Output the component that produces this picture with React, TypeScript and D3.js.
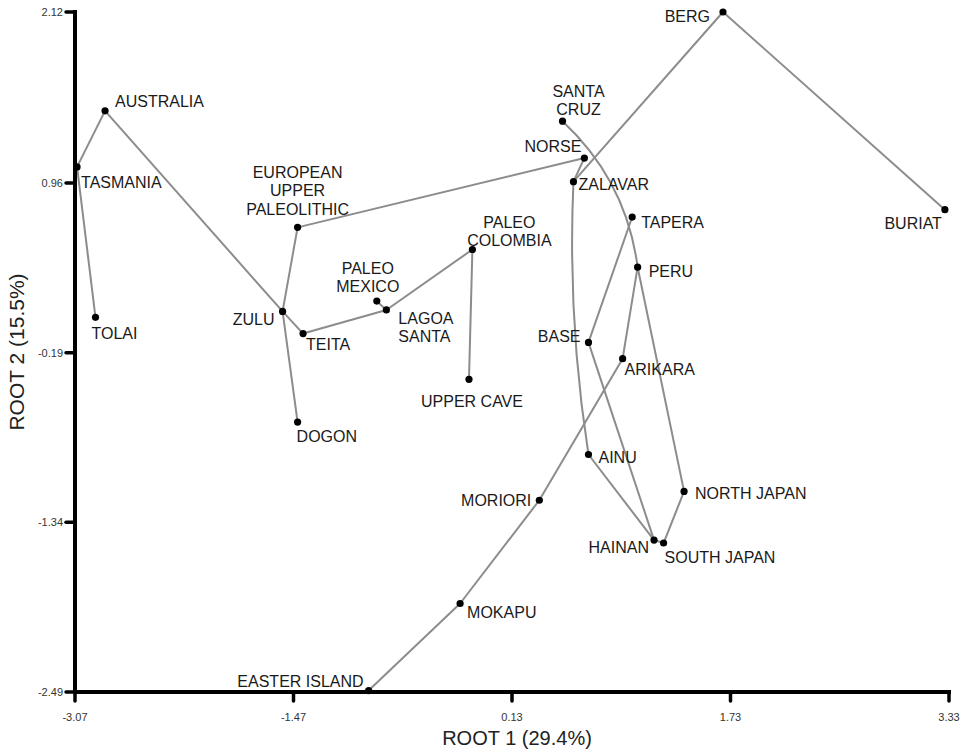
import React from "react";
import * as d3 from "d3";

const names = [
  "AUSTRALIA", "TASMANIA", "TOLAI", "ZULU", "EUROPEAN\nUPPER\nPALEOLITHIC", "TEITA", "DOGON",
  "PALEO\nMEXICO", "LAGOA\nSANTA", "PALEO\nCOLOMBIA", "UPPER CAVE", "NORSE", "SANTA\nCRUZ",
  "ZALAVAR", "BERG", "BURIAT", "TAPERA", "PERU", "BASE", "ARIKARA", "AINU", "NORTH JAPAN",
  "HAINAN", "SOUTH JAPAN", "MORIORI", "MOKAPU", "EASTER ISLAND",
];
const root1 = [
  -2.85, -3.055, -2.92, -1.55, -1.44, -1.40, -1.44,
  -0.86, -0.79, -0.16, -0.185, 0.66, 0.50,
  0.58, 1.675, 3.30, 1.01, 1.05, 0.69, 0.94, 0.69, 1.39,
  1.17, 1.24, 0.33, -0.25, -0.92,
];
const root2 = [
  1.45, 1.07, 0.05, 0.09, 0.66, -0.06, -0.66,
  0.16, 0.10, 0.51, -0.37, 1.13, 1.38,
  0.97, 2.12, 0.78, 0.73, 0.39, -0.12, -0.23, -0.88, -1.13,
  -1.46, -1.48, -1.19, -1.89, -2.48,
];
// tree edges: [from, to, bend]
const edges: [number, number, number][] = [
  [0, 1, 0], [1, 2, 0], [0, 3, 0], [3, 4, 0], [3, 5, 0], [3, 6, 0],
  [5, 8, 0], [8, 7, 0], [8, 9, 0], [9, 10, 0], [4, 11, 0], [11, 13, 0],
  [13, 14, 0], [14, 15, 0], [13, 20, -0.05], [20, 22, 0], [18, 22, 0], [18, 16, 0],
  [12, 17, 0.18], [17, 19, 0], [17, 21, 0], [21, 23, 0], [22, 23, 0],
  [19, 24, 0], [24, 25, 0], [25, 26, 0],
];
const xTicks = [-3.07, -1.47, 0.13, 1.73, 3.33];
const yTicks = [2.12, 0.96, -0.19, -1.34, -2.49];

// label placement: [dx, dy (center of first line), anchor]
const labelPos: [number, number, string][] = [
  [10, -9, "start"], [4, 16, "start"], [-4, 16, "start"], [-8, 8, "end"], [0, -55, "middle"],
  [3, 11, "start"], [-1, 14, "start"], [-9, -33, "middle"], [12, 8, "start"], [37, -27, "middle"],
  [3, 22, "middle"], [-3, -12, "end"], [16, -30, "middle"], [5, 3, "start"], [-13, 4, "end"],
  [-3, 14, "end"], [9, 5, "start"], [11, 4, "start"], [-8, -6, "end"], [2, 11, "start"],
  [10, 3, "start"], [11, 2, "start"], [-5, 7, "end"], [1, 14, "start"], [-8, 0, "end"],
  [7, 9, "start"], [-5, -9, "end"],
];

export default function App() {
  const x = d3.scaleLinear().domain([-3.07, 3.33]).range([75, 949]);
  const y = d3.scaleLinear().domain([-2.49, 2.12]).range([692, 12]);
  const font = "Liberation Sans, Arial, sans-serif";

  const edgePath = (a: number, b: number, bend: number) => {
    const x1 = x(root1[a]), y1 = y(root2[a]), x2 = x(root1[b]), y2 = y(root2[b]);
    const p = d3.path();
    p.moveTo(x1, y1);
    if (bend === 0) {
      p.lineTo(x2, y2);
    } else {
      const dx = x2 - x1, dy = y2 - y1;
      const len = Math.hypot(dx, dy);
      const cx = (x1 + x2) / 2 + (dy / len) * bend * len;
      const cy = (y1 + y2) / 2 + (-dx / len) * bend * len;
      p.quadraticCurveTo(cx, cy, x2, y2);
    }
    return p.toString();
  };

  return (
    <svg width={967} height={753} style={{ position: "absolute", left: 0, top: 0, background: "#fff" }}>
      {/* edges */}
      {edges.map(([a, b, bend], i) => (
        <path key={i} d={edgePath(a, b, bend)} fill="none" stroke="#8c8c8c" strokeWidth={2} />
      ))}
      {/* axes */}
      <line x1={x(-3.07)} x2={x(-3.07)} y1={y(2.12) - 2} y2={y(-2.49) + 2} stroke="#000" strokeWidth={4} />
      <line x1={x(-3.07) - 2} x2={x(3.33) + 2} y1={692} y2={692} stroke="#000" strokeWidth={4} />
      {yTicks.map((t) => (
        <g key={"y" + t}>
          <line x1={x(-3.07) - 9} x2={x(-3.07)} y1={y(t)} y2={y(t)} stroke="#000" strokeWidth={3.5} strokeLinecap="round" />
          <text x={x(-3.07) - 12} y={y(t)} dy="0.35em" textAnchor="end" fontFamily={font} fontSize={11} fill="#333">
            {t.toFixed(2)}
          </text>
        </g>
      ))}
      {xTicks.map((t) => (
        <g key={"x" + t}>
          <line x1={x(t)} x2={x(t)} y1={692} y2={701} stroke="#000" strokeWidth={3.5} strokeLinecap="round" />
          <text x={x(t)} y={717} dy="0.35em" textAnchor="middle" fontFamily={font} fontSize={11} fill="#333">
            {t.toFixed(2)}
          </text>
        </g>
      ))}
      <text x={517} y={738} dy="0.35em" textAnchor="middle" fontFamily={font} fontSize={20} fill="#222">
        ROOT 1 (29.4%)
      </text>
      <text transform="translate(17,352) rotate(-90)" dy="0.35em" textAnchor="middle" fontFamily={font} fontSize={21} fill="#222">
        ROOT 2 (15.5%)
      </text>
      {/* points */}
      {names.map((n, i) => (
        <circle key={"c" + i} cx={x(root1[i])} cy={y(root2[i])} r={3.6} fill="#000" />
      ))}
      {/* labels */}
      {names.map((n, i) => {
        const [dx, dy, anchor] = labelPos[i];
        const lines = n.split("\n");
        return (
          <text key={"t" + i} x={x(root1[i]) + dx} y={y(root2[i]) + dy} textAnchor={anchor}
            fontFamily={font} fontSize={16} fill="#1a1a1a">
            {lines.map((l, j) => (
              <tspan key={j} x={x(root1[i]) + dx} dy={j === 0 ? "0.35em" : "1.15em"}>{l}</tspan>
            ))}
          </text>
        );
      })}
    </svg>
  );
}
